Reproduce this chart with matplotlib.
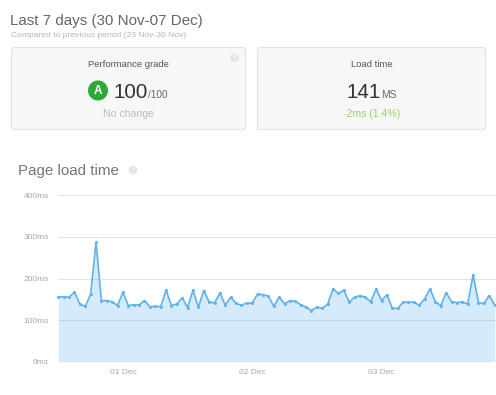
import matplotlib
matplotlib.use('Agg')
import matplotlib.pyplot as plt
from matplotlib.patches import FancyBboxPatch, Circle

plt.rcParams['font.family'] = ['Liberation Sans', 'DejaVu Sans']

# Load time per hour (ms)
load_ms = [156, 156, 155, 167, 139, 133, 162, 287, 147, 147, 144, 135,
           167, 135, 137, 136, 147, 132, 133, 132, 172, 135, 139, 154,
           130, 172, 131, 171, 144, 141, 165, 136, 155, 140, 136,
           141, 141, 163, 161, 158, 133, 155, 139, 147, 145, 137, 131,
           123, 131, 129, 138, 175, 164, 172, 143, 155, 159, 155, 144,
           175, 147, 161, 129, 128, 143, 143, 143, 136, 151, 175, 144,
           135, 166, 144, 142, 144, 139, 209, 142, 140, 159, 136]
hours = list(range(len(load_ms)))

y_ticks = [0, 100, 200, 300, 400]
y_labels = ['0ms', '100ms', '200ms', '300ms', '400ms']
x_ticks = [12, 36, 60]
x_labels = ['01 Dec', '02 Dec', '03 Dec']

W, H = 496, 395
fig = plt.figure(figsize=(W / 100, H / 100), dpi=100)

# Page layer in pixel coordinates
page = fig.add_axes([0, 0, 1, 1])
page.set_xlim(0, W)
page.set_ylim(H, 0)
page.axis('off')

page.text(10.5, 21, 'Last 7 days (30 Nov-07 Dec)', fontsize=10.9, color='#666666', va='center')
page.text(11, 35.5, 'Compared to previous period (23 Nov-30 Nov)', fontsize=6.1, color='#b4b4b4', va='center')

# Cards
for x0, x1 in [(11.5, 245.5), (257.5, 485.5)]:
    page.add_patch(FancyBboxPatch((x0, 47.5), x1 - x0, 82, boxstyle='round,pad=0,rounding_size=2',
                                  fc='#f7f7f7', ec='#e4e4e4', lw=0.8))

page.text(128.5, 64.5, 'Performance grade', fontsize=6.8, color='#555555', ha='center', va='center')
page.add_patch(Circle((98, 90.5), 10, fc='#2fa83a', ec='none'))
page.text(98, 91, 'A', fontsize=8.5, color='white', weight='bold', ha='center', va='center')
page.text(113.5, 97.5, '100', fontsize=14.8, color='#333333', va='baseline')
page.text(147.5, 97.5, '/100', fontsize=7.2, color='#666666', va='baseline')
page.text(128.5, 114, 'No change', fontsize=7.6, color='#bcbcbc', ha='center', va='center')

page.text(371.5, 64.5, 'Load time', fontsize=6.8, color='#555555', ha='center', va='center')
page.text(346.5, 97.5, '141', fontsize=14.8, color='#333333', va='baseline')
page.text(381, 97.5, 'MS', fontsize=7.4, color='#666666', va='baseline')
page.text(371.5, 114, '-2ms (1.4%)', fontsize=7.6, color='#9ccf6a', ha='center', va='center')

page.text(18, 171.5, 'Page load time', fontsize=10.9, color='#777777', va='center')

# Help icons
for cx, cy in [(234.5, 58), (133, 170)]:
    page.add_patch(Circle((cx, cy), 4.2, fc='#e2e2e2', ec='none'))
    page.text(cx, cy, '?', fontsize=5, color='white', weight='bold', ha='center', va='center')

# Chart
left, right, top, bottom = 58.3, 496, 195.3, 361.7
ax = fig.add_axes([left / W, 1 - bottom / H, (right - left) / W, (bottom - top) / H])
ax.patch.set_alpha(0)
ax.grid(axis='y', color='#e2e2e2', lw=0.8, zorder=1)
ax.set_axisbelow(True)
ax.fill_between(hours, load_ms, 0, color='#5fb0ee', alpha=0.26, lw=0, zorder=2)
ax.plot(hours, load_ms, color='#5fb2ea', lw=1.2, marker='o', ms=1.2, zorder=3, clip_on=False)

ax.set_xlim(0, (right - left) / 5.387)
ax.set_ylim(0, 400)
ax.set_xticks(x_ticks, x_labels)
ax.set_yticks(y_ticks, y_labels)
ax.tick_params(length=0, labelsize=6, labelcolor='#a8a8a8')
ax.tick_params(axis='x', pad=5.5)
ax.tick_params(axis='y', pad=7)
for spine in ax.spines.values():
    spine.set_visible(False)

fig.savefig('out.png', dpi=100)
